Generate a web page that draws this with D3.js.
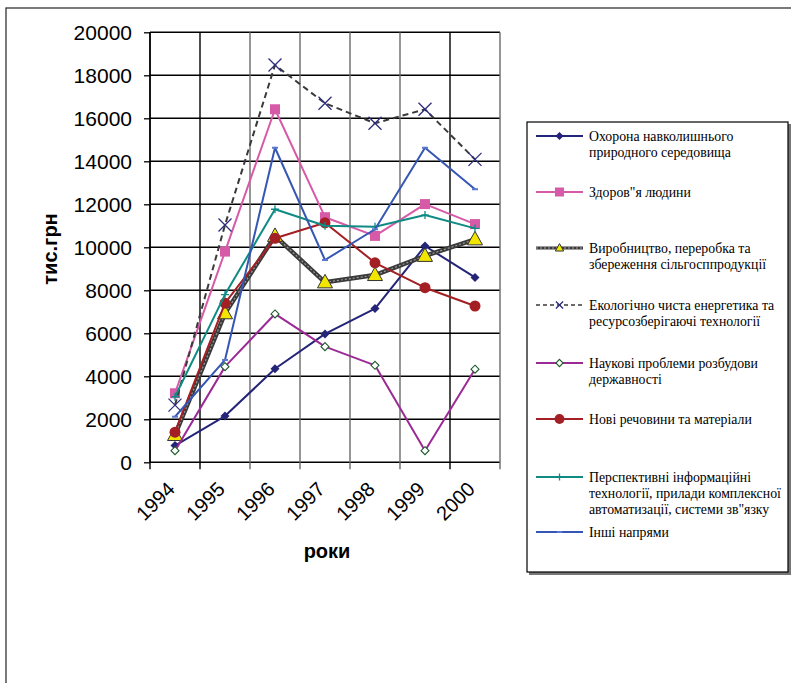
<!DOCTYPE html>
<html>
<head>
  <meta charset="utf-8">
  <style>
    html, body {
      margin: 0;
      padding: 0;
      background: #fff;
      width: 100%;
      height: 100%;
      overflow: hidden;
    }
    svg { display: block; }
    .axis text { font-family: Arial, "Liberation Sans", sans-serif; font-size: 21px; fill: #000; }
    .axis path { display: none; }
    .axis line { stroke: #000; stroke-width: 1.3px; }
    .legend text { font-family: "Liberation Serif", "Times New Roman", serif; font-size: 13.8px; fill: #000; }
  </style>
</head>
<body>
  <svg width="791" height="683"></svg>

  <script src="https://d3js.org/d3.v7.min.js"></script>
  <script>
    const years = ["1994", "1995", "1996", "1997", "1998", "1999", "2000"];

    // тис.грн по роках
    const okhorona   = [780, 2150, 4350, 5970, 7150, 10060, 8600];
    const zdorovya   = [3210, 9800, 16420, 11400, 10530, 12010, 11080];
    const vyrobnytstvo = [1270, 6930, 10530, 8370, 8710, 9600, 10370];
    const ekolohichno = [2660, 11040, 18480, 16700, 15770, 16420, 14090];
    const naukovi    = [540, 4450, 6900, 5380, 4510, 540, 4330];
    const novi       = [1400, 7400, 10420, 11140, 9280, 8120, 7270];
    const perspektyvni = [3050, 7800, 11770, 11000, 10960, 11500, 10880];
    const inshi      = [2120, 4760, 14630, 9410, 10840, 14630, 12700];

    const seriesNames = [
      ["Охорона навколишнього", "природного середовища"],
      ["Здоров\"я людини"],
      ["Виробництво, переробка та", "збереження сільгосппродукції"],
      ["Екологічно чиста енергетика та", "ресурсозберігаючі технології"],
      ["Наукові проблеми розбудови", "державності"],
      ["Нові речовини та матеріали"],
      ["Перспективні інформаційні", "технології, прилади комплексної", "автоматизації, системи зв\"язку"],
      ["Інші напрями"]
    ];

    const series = [
      { name: seriesNames[0], values: okhorona, color: "#242479", marker: "diamond", legendY: 136 },
      { name: seriesNames[1], values: zdorovya, color: "#d65aa8", marker: "square", legendY: 192 },
      { name: seriesNames[2], values: vyrobnytstvo, color: "#3c3c3c", marker: "triangle", legendY: 248 },
      { name: seriesNames[3], values: ekolohichno, color: "#3a3a3a", marker: "cross", legendY: 305 },
      { name: seriesNames[4], values: naukovi, color: "#9b2a95", marker: "hollowDiamond", legendY: 363 },
      { name: seriesNames[5], values: novi, color: "#a31f24", marker: "circle", legendY: 419 },
      { name: seriesNames[6], values: perspektyvni, color: "#0f8b84", marker: "plus", legendY: 477 },
      { name: seriesNames[7], values: inshi, color: "#3656b3", marker: "dash", legendY: 532 }
    ];

    const svg = d3.select("svg");

    // outer chart frame (runs off the picture to the right and bottom)
    svg.append("rect")
      .attr("x", 6).attr("y", 8)
      .attr("width", 800).attr("height", 700)
      .attr("fill", "none").attr("stroke", "#333").attr("stroke-width", 1.3);

    const x = d3.scaleBand().domain(years).range([150, 500]);
    const y = d3.scaleLinear().domain([0, 20000]).range([462.3, 32.3]);

    const grid = svg.append("g");
    // horizontal grid
    grid.selectAll("line.h")
      .data(y.ticks(10))
      .join("line")
      .attr("x1", 150).attr("x2", 500)
      .attr("y1", d => y(d)).attr("y2", d => y(d))
      .attr("stroke", "#000").attr("stroke-width", 1.4);
    // vertical grid on category boundaries
    const bounds = years.map(d => x(d)).concat([x.range()[1]]);
    grid.selectAll("line.v")
      .data(bounds)
      .join("line")
      .attr("x1", d => d).attr("x2", d => d)
      .attr("y1", y(20000)).attr("y2", y(0) + 7)
      .attr("stroke", (d, i) => (i === 0 || i === 1 || i === 6) ? "#000" : "#6a6a6a")
      .attr("stroke-width", 1.4);
    // y axis line
    grid.append("line")
      .attr("x1", 150).attr("x2", 150).attr("y1", y(20000)).attr("y2", y(0))
      .attr("stroke", "#000").attr("stroke-width", 1.4);

    svg.append("g")
      .attr("class", "axis")
      .attr("transform", "translate(150,0)")
      .call(d3.axisLeft(y).tickValues(d3.range(0, 20001, 2000)).tickSize(6).tickPadding(12).tickFormat(d3.format("d")));

    svg.append("g")
      .attr("class", "axis")
      .attr("transform", `translate(0,${y(0)})`)
      .call(d3.axisBottom(x).tickSize(0))
      .selectAll("text")
      .style("font-size", "20px")
      .attr("text-anchor", "end")
      .attr("y", 0)
      .attr("dy", 0)
      .attr("transform", "translate(1,28) rotate(-45)");

    // axis titles
    svg.append("text")
      .attr("x", 327).attr("y", 558)
      .attr("text-anchor", "middle")
      .style("font-family", "Arial, 'Liberation Sans', sans-serif")
      .style("font-weight", "bold").style("font-size", "20px")
      .text("роки");

    svg.append("text")
      .attr("transform", "translate(57,249) rotate(-90)")
      .attr("text-anchor", "middle")
      .style("font-family", "Arial, 'Liberation Sans', sans-serif")
      .style("font-weight", "bold").style("font-size", "20px")
      .text("тис.грн");

    function drawMarker(g, type, color, scale) {
      const s = scale || 1;
      if (type === "diamond") {
        g.append("path").attr("d", `M0,${-4.5*s}L${4.5*s},0L0,${4.5*s}L${-4.5*s},0Z`).attr("fill", color);
      } else if (type === "square") {
        g.append("rect").attr("x", -5*s).attr("y", -5*s).attr("width", 10*s).attr("height", 10*s).attr("fill", color);
      } else if (type === "triangle") {
        g.append("path").attr("d", `M0,${-8*s}L${7.5*s},${5.5*s}L${-7.5*s},${5.5*s}Z`)
          .attr("fill", "#f2e600").attr("stroke", "#333").attr("stroke-width", 1);
      } else if (type === "cross") {
        g.append("path").attr("d", `M${-6.5*s},${-6.5*s}L${6.5*s},${6.5*s}M${6.5*s},${-6.5*s}L${-6.5*s},${6.5*s}`)
          .attr("stroke", "#2c2c7e").attr("stroke-width", 1.3);
      } else if (type === "hollowDiamond") {
        g.append("path").attr("d", `M0,${-4*s}L${4*s},0L0,${4*s}L${-4*s},0Z`)
          .attr("fill", "#fff").attr("stroke", "#1d5a2a").attr("stroke-width", 1.1);
      } else if (type === "circle") {
        g.append("circle").attr("r", 5.5*s).attr("fill", color);
      } else if (type === "plus") {
        g.append("path").attr("d", `M${-4*s},0L${4*s},0M0,${-4*s}L0,${4*s}`)
          .attr("stroke", color).attr("stroke-width", 1.3);
      } else if (type === "dash") {
        g.append("path").attr("d", `M${-3*s},0L${3*s},0`)
          .attr("stroke", "#5a78cc").attr("stroke-width", 2);
      }
    }

    const line = d3.line()
      .x((d, i) => x(years[i]) + x.bandwidth() / 2)
      .y(d => y(d));

    const plot = svg.append("g");
    series.forEach(s => {
      const g = plot.append("g");
      if (s.marker === "triangle") {
        g.append("path").attr("d", line(s.values)).attr("fill", "none")
          .attr("stroke", "#3a3a3a").attr("stroke-width", 4.5).attr("stroke-linejoin", "round");
        g.append("path").attr("d", line(s.values)).attr("fill", "none")
          .attr("stroke", "#9a9a9a").attr("stroke-width", 1.2).attr("stroke-dasharray", "2,2");
      } else if (s.marker === "cross") {
        g.append("path").attr("d", line(s.values)).attr("fill", "none")
          .attr("stroke", s.color).attr("stroke-width", 2).attr("stroke-dasharray", "6,4");
      } else {
        g.append("path").attr("d", line(s.values)).attr("fill", "none")
          .attr("stroke", s.color).attr("stroke-width", 2).attr("stroke-linejoin", "round");
      }
      s.values.forEach((v, i) => {
        const m = g.append("g")
          .attr("transform", `translate(${x(years[i]) + x.bandwidth() / 2},${y(v)})`);
        drawMarker(m, s.marker, s.color, 1);
      });
    });

    // legend
    const legend = svg.append("g").attr("class", "legend");
    legend.append("rect")
      .attr("x", 529).attr("y", 124).attr("width", 262).attr("height", 451)
      .attr("fill", "#777");
    legend.append("rect")
      .attr("x", 527).attr("y", 122).attr("width", 261).attr("height", 450)
      .attr("fill", "#fff").attr("stroke", "#000").attr("stroke-width", 1.2);

    series.forEach(s => {
      const g = legend.append("g").attr("transform", `translate(0,${s.legendY})`);
      if (s.marker === "triangle") {
        g.append("line").attr("x1", 536).attr("x2", 583)
          .attr("stroke", "#3a3a3a").attr("stroke-width", 3);
        g.append("line").attr("x1", 536).attr("x2", 583)
          .attr("stroke", "#aaa").attr("stroke-width", 1).attr("stroke-dasharray", "2,2");
      } else if (s.marker === "cross") {
        g.append("line").attr("x1", 536).attr("x2", 583)
          .attr("stroke", s.color).attr("stroke-width", 1.3).attr("stroke-dasharray", "4,3");
      } else {
        g.append("line").attr("x1", 536).attr("x2", 583)
          .attr("stroke", s.color).attr("stroke-width", 2);
      }
      const m = g.append("g").attr("transform", "translate(559.5,0)");
      const sc = s.marker === "triangle" ? 0.55 : s.marker === "cross" ? 0.55 : 0.9;
      drawMarker(m, s.marker, s.color, sc);
      s.name.forEach((t, j) => {
        g.append("text")
          .attr("x", 589).attr("y", j * 16)
          .attr("dy", "0.35em")
          .text(t);
      });
    });
  </script>
</body>
</html>
